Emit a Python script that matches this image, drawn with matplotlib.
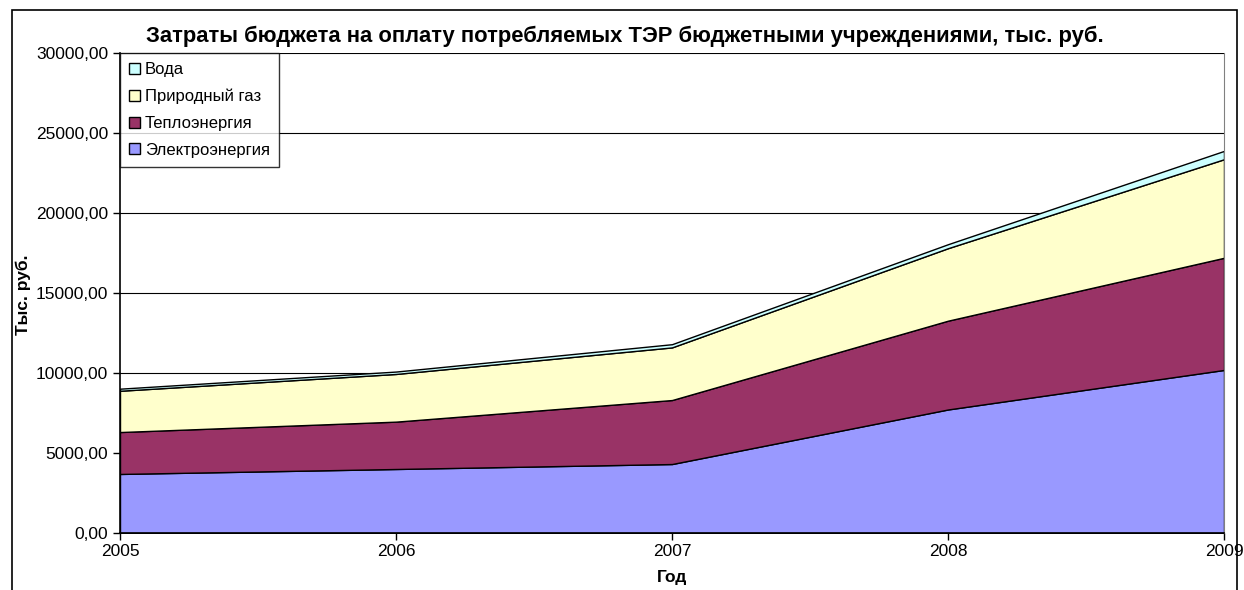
import matplotlib.pyplot as plt
import matplotlib.patches as patches
from matplotlib.ticker import FuncFormatter
import numpy as np

plt.rcParams['font.family'] = ['Liberation Sans', 'DejaVu Sans']

years = [2005, 2006, 2007, 2008, 2009]
electricity = [3690, 4000, 4310, 7720, 10190]
heat = [2620, 2960, 4000, 5550, 7010]
gas = [2580, 2980, 3290, 4530, 6160]
water = [130, 150, 200, 250, 520]

labels = ["Электроэнергия", "Теплоэнергия", "Природный газ", "Вода"]
colors = ["#9999FF", "#993366", "#FFFFCC", "#CCFFFF"]

fig = plt.figure(figsize=(12.44, 5.9), dpi=100)
ax = fig.add_axes([120 / 1244, 1 - 533 / 590, (1224 - 120) / 1244, (533 - 53) / 590])

# outer chart frame (bottom edge is cut off in the original)
frame = patches.Rectangle((12 / 1244, -0.05), (1237 - 12) / 1244, 1.05 - 10 / 590,
                          transform=fig.transFigure, fill=False, edgecolor="black",
                          linewidth=1.2, clip_on=False)
fig.patches.append(frame)

ax.stackplot(years, electricity, heat, gas, water, colors=colors,
             labels=labels, edgecolor="black", linewidth=1.0, zorder=2)

ax.set_xlim(2005, 2009)
ax.set_ylim(0, 30000)
ax.set_yticks(np.arange(0, 30001, 5000))
ax.set_xticks(years)
ax.yaxis.set_major_formatter(FuncFormatter(lambda v, p: f"{v:.2f}".replace(".", ",")))
ax.grid(axis="y", color="black", linewidth=0.8, zorder=0)
ax.set_axisbelow(True)

ax.spines["top"].set_visible(False)
ax.spines["right"].set_color("#808080")
ax.spines["left"].set_linewidth(1.2)
ax.spines["bottom"].set_linewidth(1.2)

ax.tick_params(axis="both", direction="out", length=5, width=1, labelsize=12.5)
ax.tick_params(axis="x", pad=3)

ax.set_xlabel("Год", fontsize=12.5, fontweight="bold", labelpad=8)
fig.text(23 / 1244, 1 - 295 / 590, "Тыс. руб.", fontsize=12.5, fontweight="bold",
         rotation=90, ha="center", va="center")
fig.text(625 / 1244, 1 - 36 / 590,
         "Затраты бюджета на оплату потребляемых ТЭР бюджетными учреждениями, тыс. руб.",
         fontsize=15.8, fontweight="bold", ha="center", va="center")

handles, lbls = ax.get_legend_handles_labels()
leg = ax.legend(handles[::-1], lbls[::-1], loc="upper left", bbox_to_anchor=(0, 1.0),
                fontsize=12, frameon=True, fancybox=False, edgecolor="black",
                handlelength=0.65, handleheight=0.65, handletextpad=0.3,
                labelspacing=0.7, borderpad=0.55, borderaxespad=0.0)
leg.get_frame().set_linewidth(1.0)
leg.set_zorder(5)

fig.savefig("out.png", dpi=100)
